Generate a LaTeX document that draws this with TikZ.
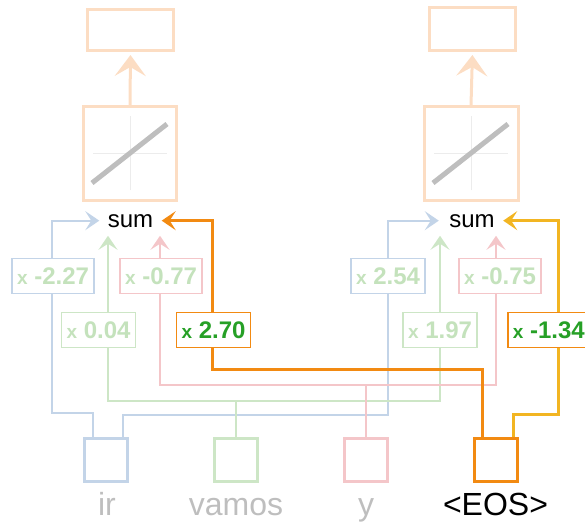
\documentclass[tikz,border=0pt]{standalone}
\usepackage{fontspec}
\setmainfont{Liberation Sans}
\usetikzlibrary{arrows.meta}
\usetikzlibrary{backgrounds}

\definecolor{wireblue}{RGB}{195,212,232}
\definecolor{wiregreen}{RGB}{205,230,198}
\definecolor{wirepink}{RGB}{244,198,201}
\definecolor{peach}{RGB}{252,221,195}
\definecolor{eosorange}{RGB}{242,138,18}
\definecolor{eosyellow}{RGB}{242,181,34}
\definecolor{fadedgreen}{RGB}{196,226,188}
\definecolor{weightgreen}{RGB}{38,160,38}
\definecolor{wordgray}{RGB}{190,190,190}
\definecolor{axisgray}{RGB}{236,236,236}
\definecolor{diaggray}{RGB}{190,190,190}

\newcommand{\wt}[1]{{\fontsize{19}{19}\selectfont x} #1}

\tikzset{
  wire/.style={line width=2.2pt},
  eoswire/.style={line width=3pt},
  sumtip/.style={-{Stealth[length=14pt,width=19pt,inset=6pt]}},
  uptip/.style={-{Stealth[length=21pt,width=31pt,inset=9pt]}},
  token/.style={draw,line width=3pt,minimum size=43pt,inner sep=0pt},
  layerbox/.style={draw=peach,line width=3pt,inner sep=0pt},
  weightbox/.style={draw,fill=white,line width=1.6pt,minimum height=35pt,
    inner xsep=5pt,font=\fontsize{24}{24}\bfseries},
  word/.style={anchor=base,font=\fontsize{32}{32}\selectfont},
  sumlabel/.style={anchor=base,font=\fontsize{24}{24}\selectfont}
}

\begin{document}
\begin{tikzpicture}[x=1pt,y=-1pt]
\useasboundingbox (0,0) rectangle (585,521);
\clip (0,0) rectangle (585,521);

% output and activation boxes
\node[layerbox,minimum width=86pt,minimum height=41pt] (out1) at (130.5,30) {};
\node[layerbox,minimum width=86pt,minimum height=43pt] (out2) at (472.5,29) {};
\node[layerbox,minimum width=93pt,minimum height=94pt] (act1) at (130,153.5) {};
\node[layerbox,minimum width=94pt,minimum height=94pt] (act2) at (471,153.5) {};

\draw[line width=3pt,peach,uptip,shorten >=3pt] (act1.north) -- (out1.south);
\draw[line width=3pt,peach,uptip,shorten >=3pt] (act2.north) -- (out2.south);

\foreach \a in {act1,act2}{
  \draw[axisgray,line width=1pt] ([xshift=-37pt]\a.center) -- ([xshift=37pt]\a.center);
  \draw[axisgray,line width=1pt] ([yshift=-37pt]\a.center) -- ([yshift=37pt]\a.center);
  \draw[diaggray,line width=5pt] ([shift={(-38,29.5)}]\a.center) -- ([shift={(37,-29.5)}]\a.center);
}

\node[sumlabel] (sum1) at (130.5,227) {sum};
\node[sumlabel] (sum2) at (472,227) {sum};

% weights
\node[weightbox,draw=wireblue,text=fadedgreen] (w1a) at (53,276) {\wt{-2.27}};
\node[weightbox,draw=wirepink,text=fadedgreen] (w1c) at (161,276) {\wt{-0.77}};
\node[weightbox,draw=wiregreen,text=fadedgreen] (w1b) at (98.5,330) {\wt{0.04}};
\node[weightbox,draw=eosorange,text=weightgreen] (w1d) at (213.5,330) {\wt{2.70}};

\node[weightbox,draw=wireblue,text=fadedgreen] (w2a) at (388,276) {\wt{2.54}};
\node[weightbox,draw=wirepink,text=fadedgreen] (w2c) at (500,276) {\wt{-0.75}};
\node[weightbox,draw=wiregreen,text=fadedgreen] (w2b) at (440,330) {\wt{1.97}};
\node[weightbox,draw=eosorange,text=weightgreen,anchor=west] (w2d) at (507,330) {\wt{-1.34}};

% input tokens
\node[token,draw=wireblue] (ir) at (106,460) {};
\node[token,draw=wiregreen] (vamos) at (236,460) {};
\node[token,draw=wirepink] (yword) at (366,460) {};
\node[token,draw=eosorange] (eos) at (495.5,460) {};

\node[word,text=wordgray] (irlabel) at (107,515) {ir};
\node[word,text=wordgray] (vamoslabel) at (236,515) {vamos};
\node[word,text=wordgray] (ylabel) at (366,515) {y};
\node[word,text=black] (eoslabel) at (495.5,515) {\textless EOS\textgreater};

\begin{scope}[on background layer]
\draw[wire,wireblue,sumtip,shorten >=5pt] ([xshift=-13pt]ir.north) -- ++(0,-24) -| ([xshift=-1pt]w1a.center) |- (sum1.west);
\draw[wire,wireblue,sumtip,shorten >=7pt] ([xshift=17pt]ir.north) -- ++(0,-22) -| (w2a.center) |- (sum2.west);

\draw[wire,wiregreen,sumtip,shorten >=5pt] (vamos.north) -- ++(0,-36) -| ([xshift=-22.5pt]sum1.south);
\draw[wire,wiregreen,sumtip,shorten >=5pt] (vamos.north) -- ++(0,-36) -| ([xshift=-32pt]sum2.south);

\draw[wire,wirepink,sumtip,shorten >=5pt] (yword.north) -- ++(0,-52) -| ([xshift=29.5pt]sum1.south);
\draw[wire,wirepink,sumtip,shorten >=5pt] (yword.north) -- ++(0,-52) -| ([xshift=24pt]sum2.south);

\draw[eoswire,eosorange,sumtip,shorten >=5pt] ([xshift=-13.5pt]eos.north) -- ++(0,-68) -| ([xshift=-1pt]w1d.center) |- (sum1.east);
\draw[eoswire,eosyellow,sumtip,shorten >=5pt] ([xshift=17.5pt]eos.north) -- ++(0,-23) -| ([xshift=9.5pt]w2d.center) |- (sum2.east);
\end{scope}

\end{tikzpicture}
\end{document}
